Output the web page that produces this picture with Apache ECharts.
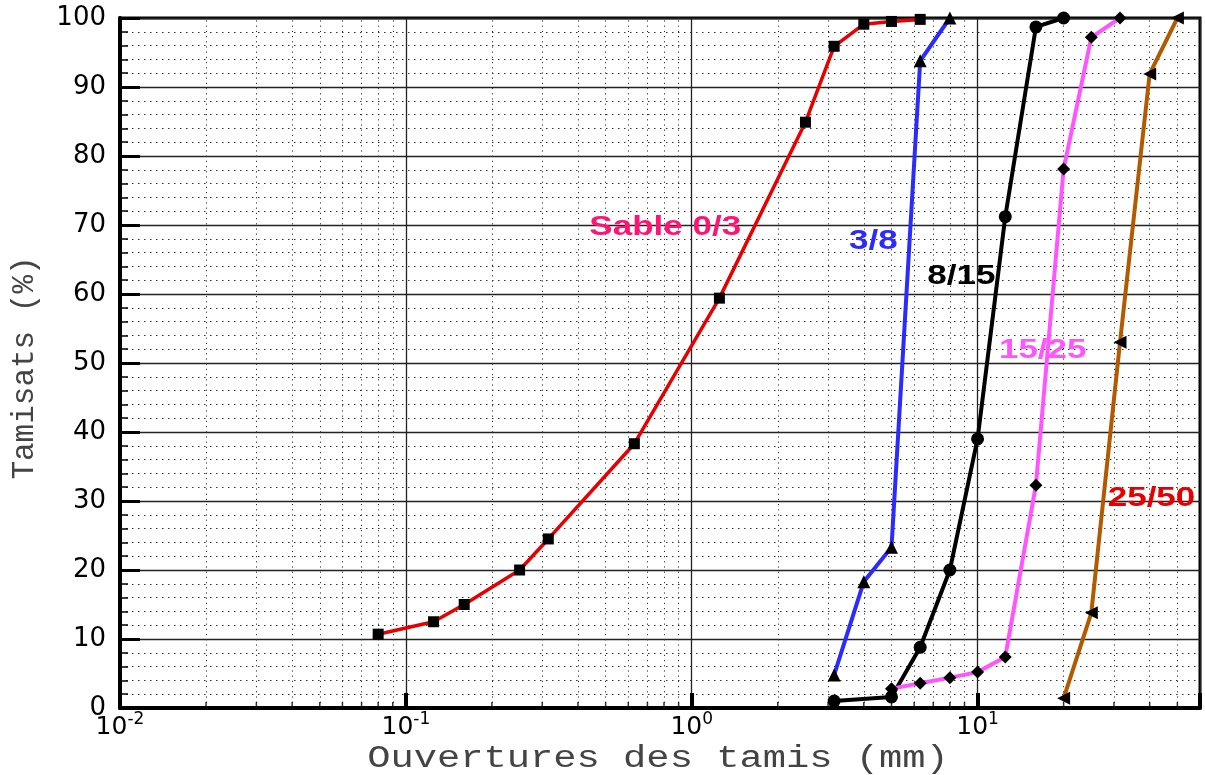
<!DOCTYPE html>
<html>
<head>
<meta charset="utf-8">
<script src="https://cdn.jsdelivr.net/npm/echarts@6/dist/echarts.min.js"></script>
<style>
html,body{margin:0;padding:0;background:#fff;}
#chart{width:1205px;height:775px;}
</style>
</head>
<body>
<div id="chart"></div>
<script>
// ---- data (sieve opening in mm, passing %) ----
const sableX = [0.08, 0.125, 0.16, 0.25, 0.315, 0.63, 1.25, 2.5, 3.15, 4, 5, 6.3];
const sableY = [10.7, 12.5, 15, 20, 24.5, 38.3, 59.4, 84.9, 95.9, 99.1, 99.5, 99.8];

const g38X = [3.15, 4, 5, 6.3, 8];
const g38Y = [4.8, 18.3, 23.3, 93.8, 100];

const g815X = [3.15, 5, 6.3, 8, 10, 12.5, 16, 20];
const g815Y = [1.0, 1.6, 8.8, 20, 39, 71.2, 98.7, 100];

const g1525X = [5, 6.3, 8, 10, 12.5, 16, 20, 25, 31.5];
const g1525Y = [2.8, 3.6, 4.4, 5.2, 7.4, 32.3, 78.1, 97.2, 100];

const g2550X = [20, 25, 31.5, 40, 50];
const g2550Y = [1.4, 13.8, 53, 91.9, 100];

// minor (dotted) vertical grid positions on the log axis
const minorGridX = [0.02,0.03,0.04,0.05,0.06,0.07,0.08,0.09,
                    0.2,0.3,0.4,0.5,0.6,0.7,0.8,0.9,
                    2,3,4,5,6,7,8,9,
                    20,30,40,50];

// curve labels: [text, x (mm), y (%), colour]
const curveLabels = [
  ['Sable 0/3', 0.808, 69.6, '#ff1473'],
  ['3/8', 4.32, 67.7, '#2b2bff'],
  ['8/15', 8.78, 62.5, '#000000'],
  ['15/25', 16.9, 51.9, '#ff55ff'],
  ['25/50', 40.6, 30.4, '#e60000']
];

const xTitle = 'Ouvertures des tamis (mm)';
const yTitle = 'Tamisats (%)';

function zip(xs, ys){ return xs.map((x,i)=>[x, ys[i]]); }

const chart = echarts.init(document.getElementById('chart'), null, {renderer:'canvas'});

function lineSeries(name, xs, ys, color, width, symbol, size, rot){
  return {
    name: name, type:'line', data: zip(xs, ys),
    smooth: false,
    lineStyle:{color: color, width: width},
    itemStyle:{color:'#000', borderWidth:0},
    symbol: symbol, symbolSize: size, symbolRotate: rot || 0,
    showSymbol:true, clip:false, z:5, animation:false
  };
}

const option = {
  animation:false,
  backgroundColor:'#fff',
  grid:{left:120, right:5, top:18, bottom:67, show:true, borderColor:'#000', borderWidth:3, backgroundColor:'transparent'},
  xAxis:{
    type:'log', logBase:10, min:0.01, max:60,
    axisLine:{show:true, onZero:false, lineStyle:{color:'#000', width:4}},
    axisTick:{show:true, inside:true, length:15, lineStyle:{color:'#000', width:4}},
    splitLine:{show:true, lineStyle:{color:'#222', width:1.3}},
    axisLabel:{
      margin:3,
      formatter:function(v){
        const l = Math.log10(v), e = Math.round(l);
        if (Math.abs(l - e) > 1e-6) return '';
        return '{b|10}{s|' + e + '}';
      },
      rich:{
        b:{fontFamily:'DejaVu Sans', fontSize:25, color:'#000', lineHeight:32, verticalAlign:'middle'},
        s:{fontFamily:'DejaVu Sans', fontSize:17, color:'#000', lineHeight:32, verticalAlign:'top'}
      }
    }
  },
  yAxis:{
    type:'value', min:0, max:100, interval:10,
    axisLine:{show:true, lineStyle:{color:'#000', width:4}},
    axisTick:{show:true, inside:true, length:20, lineStyle:{color:'#000', width:3}},
    minorTick:{show:true, splitNumber:5, length:8, lineStyle:{color:'#000', width:1.5}},
    splitLine:{show:true, lineStyle:{color:'#222', width:1.3}},
    minorSplitLine:{show:true, lineStyle:{color:'#333', width:1, type:[1.5,4.5]}},
    axisLabel:{fontFamily:'DejaVu Sans', fontSize:26, color:'#000', margin:14}
  },
  series:[
    {
      name:'minor', type:'scatter', data: minorGridX.map(v=>[v,0]),
      symbol:'rect', symbolSize:[1.5,6], symbolOffset:[0,-3],
      itemStyle:{color:'#000'}, clip:false, silent:true, z:3, animation:false,
      markLine:{
        silent:true, symbol:['none','none'], animation:false, z:1,
        label:{show:false},
        lineStyle:{color:'#333', width:1, type:[1.2,4]},
        data: minorGridX.map(v=>({xAxis:v}))
      }
    },
    lineSeries('Sable 0/3', sableX, sableY, '#e80000', 3.5, 'rect', 11, 0),
    lineSeries('3/8', g38X, g38Y, '#2b2bff', 4, 'triangle', 13, 0),
    lineSeries('8/15', g815X, g815Y, '#000000', 4, 'circle', 13, 0),
    lineSeries('15/25', g1525X, g1525Y, '#ff55ff', 4, 'diamond', 13, 0),
    lineSeries('25/50', g2550X, g2550Y, '#b35a00', 4, 'triangle', 13, 90)
  ]
};
chart.setOption(option);

// titles and curve labels as text elements (positions from the chart's own scales)
const graphics = [];
graphics.push({
  type:'text', x:658, y:759, scaleX:1.25, silent:true, z:20,
  style:{text:xTitle, fontFamily:'Liberation Mono', fontSize:31, fill:'#444',
         align:'center', verticalAlign:'middle', textAlign:'center', textVerticalAlign:'middle'}
});
graphics.push({
  type:'text', x:25, y:368, rotation:Math.PI/2, silent:true, z:20,
  style:{text:yTitle, fontFamily:'Liberation Mono', fontSize:31, fill:'#444',
         align:'center', verticalAlign:'middle', textAlign:'center', textVerticalAlign:'middle'}
});
curveLabels.forEach(function(c){
  const p = chart.convertToPixel({gridIndex:0}, [c[1], c[2]]);
  graphics.push({
    type:'text', x:p[0], y:p[1], scaleX:1.25, silent:true, z:20,
    style:{text:c[0], fontFamily:'Liberation Sans', fontWeight:'bold', fontSize:28, fill:c[3],
           align:'center', verticalAlign:'middle', textAlign:'center', textVerticalAlign:'middle'}
  });
});
chart.setOption({graphic: graphics});
</script>
</body>
</html>
